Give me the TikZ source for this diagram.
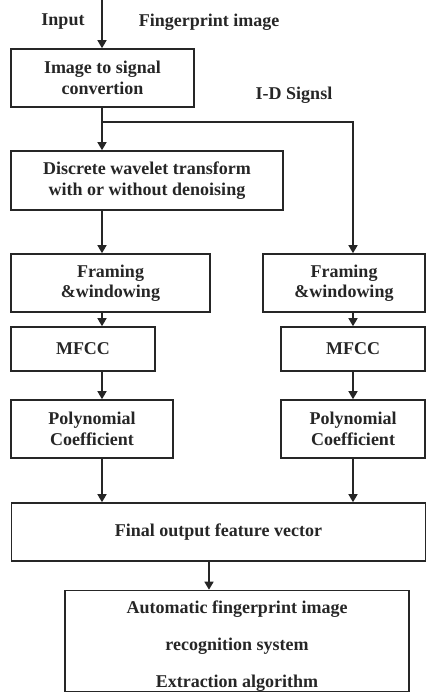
\documentclass[tikz,border=0pt]{standalone}
\usepackage{fontspec}
\setmainfont{Liberation Serif}
\usepackage{tikz}
\usetikzlibrary{calc}
\usetikzlibrary{positioning}
\usetikzlibrary{arrows.meta}
\tikzstyle{procnode} = [draw=black!85, rectangle, line width=1.6pt, inner sep=0pt, align=center, text=black!85, font=\bfseries\fontsize{18}{20.5}\selectfont]
\tikzstyle{labnode} = [inner sep=0pt, text=black!85, font=\bfseries\fontsize{18}{20.5}\selectfont]
\tikzstyle{flow} = [draw=black!85, line width=1.5pt, -{Triangle[length=8pt,width=9pt]}]

\begin{document}
\begin{tikzpicture}[x=1pt, y=-1pt]
  \useasboundingbox (0,0) rectangle (427,692);

  \coordinate (colL) at (102,0);
  \coordinate (colR) at (353,0);
  \coordinate (split) at (102,122);
  \coordinate (mid) at (209,0);

  \node[procnode, minimum width=183pt, minimum height=58pt] (img2sig) at (102.5,78) {Image to signal\\convertion};
  \node[procnode, minimum width=272pt, minimum height=59pt] (dwt) at (147,180.5) {Discrete wavelet transform\\with or without denoising};

  \node[procnode, minimum width=199pt, minimum height=58pt] (frameL) at (110.5,283) {Framing\\\&windowing};
  \node[procnode, minimum width=162pt, minimum height=58pt] (frameR) at (344,283) {Framing\\\&windowing};
  \node[procnode, minimum width=144pt, minimum height=44pt] (mfccL) at (83,349) {MFCC};
  \node[procnode, minimum width=144pt, minimum height=44pt] (mfccR) at (353,349) {MFCC};
  \node[procnode, minimum width=162pt, minimum height=58pt] (polyL) at (92,429) {Polynomial\\Coefficient};
  \node[procnode, minimum width=144pt, minimum height=58pt] (polyR) at (353,429) {Polynomial\\Coefficient};

  \node[procnode, minimum width=414pt, minimum height=58pt] (final) at (218.5,532) {Final output feature vector};
  \node[procnode, minimum width=344pt, minimum height=101pt, font=\bfseries\fontsize{18}{37}\selectfont] (afis) at (237,641) {\rule{0pt}{22pt}Automatic fingerprint image\\recognition system\\Extraction algorithm};

  \node[labnode] (input) at (63,22) {Input};
  \node[labnode] (fpimg) at (209,22) {Fingerprint image};
  \node[labnode] (sig1d) at (294,95) {I-D Signsl};

  \draw[flow] (colL) -- (img2sig.north -| colL);
  \draw[flow] (img2sig.south -| colL) -- (dwt.north -| colL);
  \draw[flow] (split) -| (frameR.north -| colR);

  \draw[flow] (dwt.south -| colL) -- (frameL.north -| colL);
  \draw[flow] (frameL.south -| colL) -- (mfccL.north -| colL);
  \draw[flow] (mfccL.south -| colL) -- (polyL.north -| colL);
  \draw[flow] (polyL.south -| colL) -- (final.north -| colL);

  \draw[flow] (frameR.south -| colR) -- (mfccR.north -| colR);
  \draw[flow] (mfccR.south -| colR) -- (polyR.north -| colR);
  \draw[flow] (polyR.south -| colR) -- (final.north -| colR);

  \draw[flow] (final.south -| mid) -- (afis.north -| mid);
\end{tikzpicture}
\end{document}
